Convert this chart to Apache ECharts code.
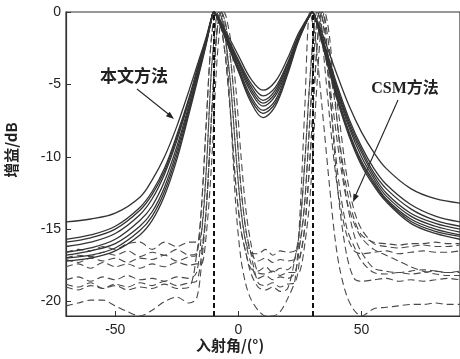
<!DOCTYPE html>
<html><head><meta charset="utf-8">
<script src="https://cdn.jsdelivr.net/npm/echarts@6/dist/echarts.min.js"></script>
<style>html,body{margin:0;padding:0;background:#fff}#c{width:460px;height:359px}</style>
</head><body><div id="c"></div>
<script>
// ---- data ----
const X_TICKS = [-50, 0, 50];
const Y_TICKS = [-20, -15, -10, -5, 0];
const TRUE_ANGLES = [-10, 30];
const LABEL_OURS = '本文方法';
const LABEL_CSM = 'CSM方法';
const X_TITLE = '入射角/(°)';
const Y_TITLE = '增益/dB';

// solid curves (本文方法): shared angle grid
const SX = [-70,-60,-50,-40,-35,-30,-25,-20,-16,-13,-11,-10,-9,-7,-4,0,5,10,15,20,24,27,29,30,31,33,36,40,45,50,55,60,70,80,90];
const S1 = [-14.5,-14.3,-13.9,-12.8,-11.6,-10.0,-7.9,-5.4,-3.3,-1.7,-0.45,0, -0.15,-0.7,-1.7,-3.0,-4.6,-5.4,-4.8,-3.2,-1.6,-0.7,-0.15,0, -0.25,-1.0,-2.4,-4.3,-6.5,-8.3,-9.7,-10.8,-12.2,-12.9,-13.2];
const S2 = [-15.7,-15.4,-14.8,-13.5,-12.4,-10.8,-8.5,-5.9,-3.5,-1.8,-0.5,0, -0.2,-0.8,-1.9,-3.3,-4.9,-5.8,-5.2,-3.5,-1.8,-0.75,-0.2,0, -0.3,-1.2,-2.8,-5.0,-7.4,-9.3,-10.8,-11.9,-13.3,-14.1,-14.5];
const S3 = [-15.9,-15.6,-15.0,-13.7,-12.6,-11.0,-8.7,-6.0,-3.6,-1.85,-0.5,0, -0.2,-0.85,-2.0,-3.4,-5.1,-6.1,-5.4,-3.6,-1.85,-0.8,-0.2,0, -0.3,-1.25,-2.9,-5.2,-7.6,-9.5,-11.1,-12.2,-13.6,-14.4,-14.8];
const S4 = [-16.2,-15.9,-15.3,-14.0,-12.9,-11.2,-8.9,-6.1,-3.7,-1.9,-0.5,0, -0.2,-0.9,-2.0,-3.5,-5.3,-6.3,-5.6,-3.7,-1.9,-0.8,-0.2,0, -0.3,-1.3,-3.0,-5.3,-7.8,-9.7,-11.3,-12.5,-13.9,-14.6,-15.0];
const S5 = [-16.6,-16.3,-15.7,-14.4,-13.4,-11.7,-9.3,-6.4,-3.9,-2.0,-0.55,0, -0.22,-0.95,-2.1,-3.7,-5.5,-6.5,-5.8,-3.9,-2.0,-0.85,-0.22,0, -0.32,-1.35,-3.15,-5.5,-8.0,-10.0,-11.5,-12.7,-14.1,-14.8,-15.2];
const S6 = [-16.8,-16.5,-16.0,-14.8,-13.8,-12.1,-9.6,-6.6,-4.0,-2.05,-0.55,0, -0.23,-1.0,-2.2,-3.85,-5.8,-6.8,-6.1,-4.0,-2.05,-0.9,-0.23,0, -0.33,-1.4,-3.3,-5.7,-8.3,-10.3,-11.7,-12.9,-14.3,-15.0,-15.4];
const S7 = [-17.0,-16.8,-16.3,-15.1,-14.1,-12.4,-9.9,-6.8,-4.15,-2.1,-0.6,0, -0.24,-1.05,-2.3,-4.0,-6.0,-7.0,-6.3,-4.15,-2.1,-0.92,-0.24,0, -0.34,-1.45,-3.4,-5.85,-8.45,-10.45,-11.85,-13.0,-14.45,-15.15,-15.5];
const S8 = [-17.2,-17.0,-16.5,-15.4,-14.4,-12.7,-10.2,-7.0,-4.3,-2.2,-0.6,0, -0.25,-1.1,-2.4,-4.1,-6.2,-7.3,-6.5,-4.3,-2.2,-0.95,-0.25,0, -0.35,-1.5,-3.5,-6.0,-8.6,-10.6,-12.0,-13.1,-14.6,-15.3,-15.7];

// dashed curves (CSM方法): shared angle grid
const DX = [-70,-65,-60,-55,-50,-45,-40,-35,-30,-25, -20,-17,-15,-13,-11,-9,-8,-7,-6,-5, -3,-1,1,3,5,8,11,14,17,20, 23,25,27,29,31,32,33,34,35,37, 39,41,44,47,50,55,60,65,70,75, 80,85,90];
const D1 = [-16.6,-16.4,-16.5,-16.2,-16.4,-16.0,-15.9,-16.4,-15.9,-16.2, -15.9,-15.9,-15.3,-10.8,-4.2,-0.5,0,-0.3,-1.0,-2.1, -5.3,-9.8,-13.6,-15.9,-16.6,-16.7,-16.4,-16.8,-16.5,-16.6, -16.5,-16.0,-13.0,-7.5,-2.2,-0.6,0,-0.3,-1.2,-3.8, -6.0,-8.8,-12.2,-14.3,-15.4,-15.9,-16.0,-16.1,-16.0,-16.0, -15.9,-16.0,-16.0];
const D2 = [-17.0,-16.8,-16.9,-16.6,-16.8,-16.5,-16.9,-16.6,-16.8,-16.4, -16.8,-16.7,-16.4,-13.5,-7.5,-1.9,-0.5,0,-0.3,-1.0, -3.5,-7.5,-12.0,-15.0,-16.6,-17.2,-17.0,-17.3,-17.1,-17.2, -17.1,-16.9,-14.8,-10.3,-4.8,-2.2,-0.6,0,-0.3,-2.6, -4.9,-7.4,-11.3,-13.7,-15.0,-16.0,-16.2,-16.3,-16.2,-16.1, -16.2,-16.2,-16.1];
const D3 = [-17.1,-17.3,-17.0,-17.2,-17.0,-17.3,-17.0,-17.1,-16.8,-17.2, -16.9,-16.8,-13.5,-7.5,-1.9,0,-0.3,-1.0,-2.1,-3.5, -7.5,-12.0,-15.0,-16.6,-17.7,-17.9,-17.6,-18.0,-17.7,-17.8, -17.0,-14.8,-10.3,-4.8,-0.6,0,-0.4,-1.7,-3.6,-7.2, -10.5,-13.0,-15.4,-16.5,-16.7,-16.6,-16.5,-16.7,-16.6,-16.5, -16.6,-16.6,-16.5];
const D4 = [-17.6,-17.4,-17.7,-17.3,-17.6,-17.4,-17.7,-17.4,-17.6,-17.3, -17.5,-17.4,-17.4,-15.3,-10.8,-4.2,-1.9,-0.5,0,-0.3, -2.1,-5.3,-9.8,-13.6,-15.9,-18.0,-18.1,-17.9,-18.2,-18.0, -18.0,-17.9,-16.0,-13.0,-7.5,-4.8,-2.2,-0.6,0,-1.7, -5.5,-9.0,-13.0,-15.4,-16.6,-17.7,-17.9,-18.0,-17.9,-17.8, -17.9,-18.0,-17.9];
const D5 = [-18.5,-18.3,-18.6,-18.3,-18.5,-18.2,-18.5,-18.4,-18.6,-18.3, -18.4,-18.0,-15.3,-10.8,-4.2,-0.5,0,-0.3,-1.0,-2.1, -5.3,-9.8,-13.6,-15.9,-17.3,-18.4,-18.2,-18.5,-18.3,-18.4, -18.0,-16.0,-13.0,-7.5,-2.2,-0.6,0,-0.4,-1.7,-5.5, -9.0,-12.0,-14.9,-16.2,-17.2,-18.0,-18.1,-18.0,-18.1,-18.0, -17.9,-18.0,-18.0];
const D6 = [-18.8,-19.0,-18.7,-19.1,-18.8,-19.0,-18.7,-18.9,-18.6,-18.9, -18.7,-18.6,-16.8,-13.5,-7.5,-1.9,-0.5,0,-0.3,-1.0, -3.5,-7.5,-12.0,-15.0,-16.6,-18.7,-18.9,-18.7,-19.0,-18.8, -18.7,-17.0,-14.8,-10.3,-4.8,-2.2,-0.6,0,-0.5,-4.8, -9.6,-13.3,-16.8,-18.4,-18.6,-18.5,-18.4,-18.6,-18.5,-18.6, -18.5,-18.4,-18.5];
const D7 = [-19.0,-19.2,-18.9,-19.1,-18.9,-19.2,-19.0,-19.1,-18.8,-19.1, -19.0,-16.8,-13.5,-7.5,-1.9,0,-0.3,-1.0,-2.1,-3.5, -7.5,-12.0,-15.0,-16.6,-18.0,-19.0,-19.2,-19.0,-19.3,-19.1, -17.0,-14.8,-10.3,-4.8,-0.6,0,-0.3,-1.2,-2.6,-4.9, -7.4,-10.0,-13.0,-14.6,-15.6,-16.4,-16.8,-17.2,-17.6,-17.9, -18.1,-18.2,-18.2];
const D8 = [-20.3,-20.1,-19.9,-19.9,-20.3,-20.7,-21.0,-20.6,-20.0,-19.7, -20.1,-19.8,-17.5,-13.5,-7.5,-1.9,-0.5,0,-0.6,-2.2, -7.5,-13.5,-17.0,-18.8,-19.8,-20.6,-21.0,-21.0,-20.7,-19.8, -18.5,-14.0,-6.5,0,-1.5,-3.0,-4.8,-6.6,-8.4,-12.0, -15.3,-17.6,-19.6,-20.6,-21.0,-20.5,-20.4,-20.3,-20.2,-20.2, -20.1,-20.2,-20.2];

const SOLID = [S1,S2,S3,S4,S5,S6,S7,S8];
const DASHED = [D1,D2,D3,D4,D5,D6,D7,D8];

// ---- chart ----
const zip = (xs, ys) => xs.map((x, i) => [x, ys[i]]);
const series = [];
DASHED.forEach(ys => series.push({
  type: 'line', data: zip(DX, ys), showSymbol: false, smooth: 0.3,
  lineStyle: { color: '#4a4a4a', width: 1.1, type: [7, 4] }, silent: true, z: 2
}));
SOLID.forEach(ys => series.push({
  type: 'line', data: zip(SX, ys), showSymbol: false, smooth: 0.35,
  lineStyle: { color: '#333', width: 1.3 }, silent: true, z: 3
}));
series.push({
  type: 'line', data: [], silent: true, z: 4,
  markLine: {
    symbol: 'none', silent: true, label: { show: false },
    lineStyle: { color: '#111', width: 2, type: [5, 3] },
    data: TRUE_ANGLES.map(a => ({ xAxis: a }))
  }
});

const tickFont = { fontFamily: 'Liberation Sans, Arial, sans-serif', fontSize: 14, color: '#222' };
const chart = echarts.init(document.getElementById('c'), null, { renderer: 'canvas' });
chart.setOption({
  animation: false,
  backgroundColor: '#fff',
  grid: { left: 66, top: 12, right: -3, bottom: 43, show: true, borderColor: '#333', borderWidth: 1.2, backgroundColor: 'transparent' },
  xAxis: {
    type: 'value', min: -70, max: 90,
    axisLine: { show: true, onZero: false, lineStyle: { color: '#333', width: 1.2 } },
    axisTick: { show: true, inside: true, length: 5, customValues: X_TICKS, lineStyle: { color: '#333' } },
    axisLabel: { ...tickFont, margin: 7, customValues: X_TICKS },
    splitLine: { show: false }
  },
  yAxis: {
    type: 'value', min: -21, max: 0,
    axisLine: { show: true, onZero: false, lineStyle: { color: '#333', width: 1.2 } },
    axisTick: { show: true, inside: true, length: 5, customValues: Y_TICKS, lineStyle: { color: '#333' } },
    axisLabel: { ...tickFont, margin: 5, customValues: Y_TICKS },
    splitLine: { show: false }
  },
  series,
  graphic: [
    { type: 'text', left: 'center', top: 338, style: { text: X_TITLE, fontSize: 15, fontWeight: 'bold', fontFamily: 'Noto Sans CJK SC, sans-serif', fill: '#222' }, x: 10 },
    { type: 'text', x: 11, y: 150, rotation: Math.PI / 2, style: { text: Y_TITLE, fontSize: 15, fontWeight: 'bold', fontFamily: 'Noto Sans CJK SC, sans-serif', fill: '#222', align: 'center', verticalAlign: 'middle' } },
    { type: 'text', x: 134, y: 76, style: { text: LABEL_OURS, fontSize: 17, fontWeight: 'bold', fontFamily: 'Noto Sans CJK SC, sans-serif', fill: '#222', align: 'center', verticalAlign: 'middle' } },
    { type: 'text', x: 405, y: 89, style: { text: LABEL_CSM, fontSize: 16, fontWeight: 'bold', fontFamily: 'Liberation Serif, Noto Sans CJK SC, serif', fill: '#222', align: 'center', verticalAlign: 'middle' } },
    { type: 'line', shape: { x1: 137, y1: 89, x2: 172, y2: 117 }, style: { stroke: '#222', lineWidth: 1.1 } },
    { type: 'polygon', shape: { points: [[174,119],[165.9,116.3],[169.7,111.7]] }, style: { fill: '#222' } },
    { type: 'line', shape: { x1: 398, y1: 100, x2: 354, y2: 199 }, style: { stroke: '#222', lineWidth: 1.1 } },
    { type: 'polygon', shape: { points: [[353,202],[353.5,193.5],[358.9,195.9]] }, style: { fill: '#222' } }
  ]
});
</script></body></html>
